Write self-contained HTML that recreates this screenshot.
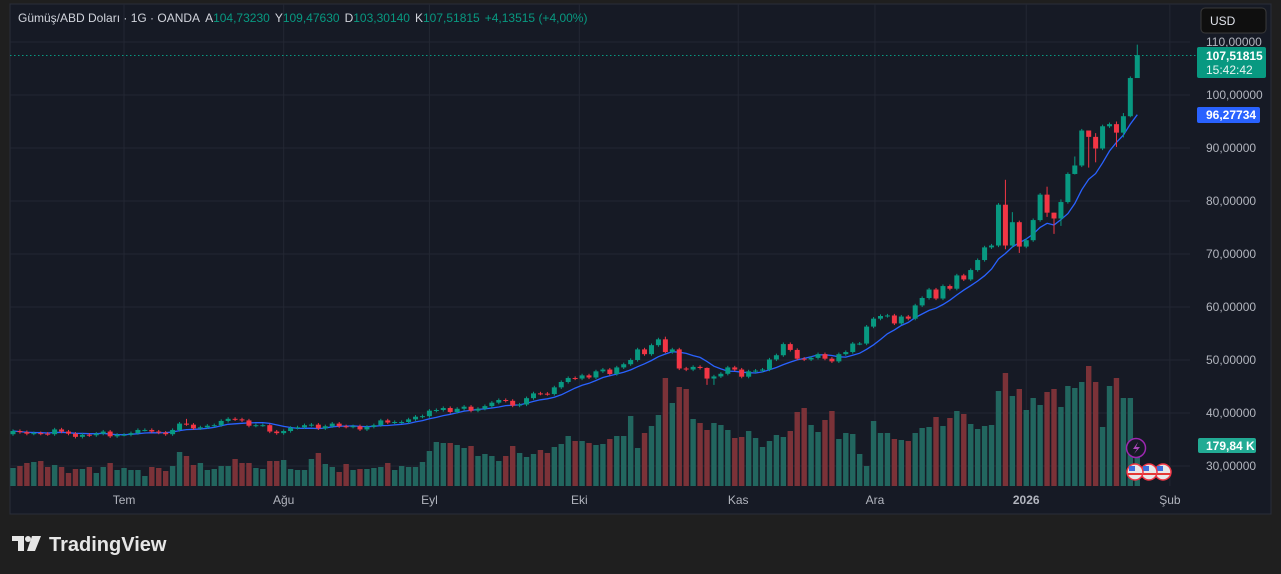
<!DOCTYPE html>
<html><head><meta charset="utf-8">
<style>
html,body{margin:0;padding:0;background:#1f1f1f;width:1281px;height:574px;overflow:hidden;font-family:"Liberation Sans",sans-serif;}
svg{position:absolute;left:0;top:0;}
</style></head>
<body>
<svg id="chart" width="1281" height="574">
  <rect x="10" y="4" width="1261" height="510" fill="#161a25" stroke="#2a2e39"/>
  <g id="grid"></g>
  <g id="vols"></g>
  <path id="ma" fill="none" stroke="#2962ff" stroke-width="1.3"/>
  <g id="candles"></g>
  <line x1="10" x2="1196" y1="55.5" y2="55.5" stroke="#089981" stroke-dasharray="1.5,2.5"/>
  <g id="yticks"></g>
  <g id="xticks"></g>
  <text x="18" y="22" font-size="12" fill="#d1d4dc">Gümüş/ABD Doları · 1G · OANDA <tspan dx="3">A</tspan><tspan fill="#089981">104,73230</tspan><tspan dx="5">Y</tspan><tspan fill="#089981">109,47630</tspan><tspan dx="5">D</tspan><tspan fill="#089981">103,30140</tspan><tspan dx="5">K</tspan><tspan fill="#089981">107,51815</tspan><tspan dx="5" fill="#089981">+4,13515 (+4,00%)</tspan></text>
  <g><rect x="1201" y="8" width="65" height="25" rx="4" fill="#0f0f0f" stroke="#3a3a3a"/><text x="1210" y="25" font-size="12" fill="#e0e3eb">USD</text></g>
  <g><rect x="1197" y="47" width="69" height="31" rx="2" fill="#089981"/><text x="1206" y="60" font-size="12" font-weight="bold" fill="#fff">107,51815</text><text x="1206" y="74" font-size="12" fill="#e8f5f2">15:42:42</text></g>
  <g><rect x="1197" y="107" width="63" height="16" rx="2" fill="#2962ff"/><text x="1206" y="119" font-size="12" font-weight="bold" fill="#fff">96,27734</text></g>
  <g><rect x="1198" y="438" width="58" height="15" rx="2" fill="#22ab94"/><text x="1206" y="450" font-size="12" font-weight="bold" fill="#fff">179,84 K</text></g>
  <g><circle cx="1136" cy="448" r="9.5" fill="#161a25" stroke="#9c27b0" stroke-width="1.5"/><path d="M1138,442 L1133,449 L1137,449 L1134,454 L1140,447 L1136,447 Z" fill="#ab47bc"/></g>
  <g>
    <circle cx="1163" cy="472" r="8" fill="#e8e8e8" stroke="#f23645" stroke-width="1.5"/><rect x="1157" y="466" width="6" height="5" fill="#3c6edc"/><rect x="1156" y="473" width="14" height="2" fill="#e53935"/>
    <circle cx="1149" cy="472" r="8" fill="#e8e8e8" stroke="#f23645" stroke-width="1.5"/><rect x="1143" y="466" width="6" height="5" fill="#3c6edc"/><rect x="1142" y="473" width="14" height="2" fill="#e53935"/>
    <circle cx="1135" cy="472" r="8" fill="#e8e8e8" stroke="#f23645" stroke-width="1.5"/><rect x="1129" y="466" width="6" height="5" fill="#3c6edc"/><rect x="1128" y="473" width="14" height="2" fill="#e53935"/>
  </g>
  <g>
    <path d="M12,536 H24 V551 H18 V541 H12 Z" fill="#e6e6e6"/><circle cx="28" cy="539" r="3" fill="#e6e6e6"/><path d="M32,536 H41 L35,551 H27 Z" fill="#e6e6e6"/>
    <text x="49" y="551" font-size="20" font-weight="bold" fill="#e6e6e6">TradingView</text>
  </g>
</svg>
<script>
// ---- data ----
const closes = [
36.6,36.4,36.1,36.2,36.1,36.0,36.9,36.5,36.1,35.5,35.9,35.8,36.1,36.5,35.6,35.9,35.9,36.2,36.8,36.8,
36.5,36.3,36.0,36.8,38.0,37.8,37.1,37.3,37.6,37.7,38.5,38.9,38.8,38.6,37.6,37.7,37.7,36.5,36.2,36.6,
37.2,37.3,37.7,37.8,37.1,37.5,38.0,37.5,37.4,37.5,36.9,37.4,37.7,38.6,38.2,38.3,38.3,38.8,39.3,
39.4,40.44,40.56,40.94,40.19,40.8,41.19,40.44,40.8,41.3,41.95,42.45,42.3,41.4,41.6,42.8,43.7,43.65,43.58,44.84,
45.85,46.6,46.5,47.1,46.7,47.86,48.2,47.36,48.6,49.2,50.0,52.0,51.1,52.8,53.9,51.5,52.0,48.4,48.2,48.7,
48.5,46.5,46.9,47.4,48.6,48.2,46.85,47.86,48.0,48.2,50.1,50.9,53.0,51.9,50.25,50.1,50.4,51.1,50.25,
49.74,51.1,51.5,53.1,53.1,56.3,57.8,58.3,58.4,56.9,58.2,57.8,60.3,61.7,63.3,61.6,63.95,63.45,65.96,65.2,
66.97,68.86,71.25,71.6,79.3,71.6,76.0,71.4,72.6,76.4,81.2,77.8,76.7,79.8,85.1,86.7,93.3,92.1,89.9,94.1,
94.5,92.9,96.0,103.2,107.52];
const firstOpen = 36.0;
// notable wick extremes: index -> [high, low]
const wickExtremes = {25:[38.9,37.6],94:[54.4,51.3],100:[48.6,45.3],101:[47.2,45.3],
143:[84.0,70.9],144:[77.9,71.2],145:[76.3,70.2],149:[82.7,77.0],150:[77.8,73.8],151:[80.3,75.3],
153:[88.4,85.0],155:[93.0,86.3],156:[92.8,87.3],159:[95.0,90.2],160:[96.6,92.0],161:[103.5,95.8],162:[109.5,103.3]};
const volumes = [
18,20,23,24,25,19,21,19,13,17,17,19,13,19,23,16,18,16,16,10,19,18,15,20,34,30,21,23,16,17,
20,20,27,23,23,18,17,25,25,26,17,16,16,27,33,22,19,14,22,16,17,17,18,19,23,16,20,19,19,
24,35,44,43,43,41,38,40,30,32,30,25,30,40,33,29,32,36,33,39,42,50,45,45,43,41,42,47,50,50,
70,38,53,60,71,108,83,99,97,67,63,56,63,61,56,48,49,55,48,39,45,51,49,55,74,78,61,54,66,
75,47,53,52,32,20,65,53,53,47,46,45,53,58,59,69,60,68,75,72,62,57,60,61,95,113,90,97,76,88,
81,94,97,79,100,98,104,120,104,59,100,108,88,88,41];
const priceTicks = [110,100,90,80,70,60,50,40,30];
const priceTickLabels = ["110,00000","100,00000","90,00000","80,00000","70,00000","60,00000","50,00000","40,00000","30,00000"];
const monthLabels = ["Tem","Ağu","Eyl","Eki","Kas","Ara","2026","Şub"];
const monthIndex = [16,39,60,81.6,104.5,124.2,146,166.7];
const maPeriod = 8;

// ---- scales ----
const X0 = 13, STEP = 6.94;
const xAt = i => X0 + STEP * i;
const yAt = p => 42 + (110 - p) * 5.3;
const VBASE = 486, VSCALE = 1.0;
const vY = v => VBASE - v * VSCALE;
const NS = "http://www.w3.org/2000/svg";
function mk(tag, attrs, parent){const e=document.createElementNS(NS,tag);for(const k in attrs)e.setAttribute(k,attrs[k]);parent.appendChild(e);return e;}

const grid = document.getElementById('grid');
priceTicks.forEach((p,i)=>{
  const y = yAt(p);
  const l = mk('line',{x1:10,x2:1190,y1:y,y2:y,stroke:'#232733','stroke-width':1},grid);
  
  
  const t = mk('text',{x:1206,y:y+4,'font-size':12,fill:'#b2b5be'},document.getElementById('yticks'));
  t.textContent = priceTickLabels[i];
  
  
});
monthIndex.forEach((mi,i)=>{
  const x = xAt(mi);
  const l = mk('line',{x1:x,x2:x,y1:4,y2:486,stroke:'#232733','stroke-width':1},grid);
  
  
  const t = mk('text',{x:x,y:504,'font-size':12,fill:'#b2b5be','text-anchor':'middle','font-weight':monthLabels[i]==='2026'?'bold':'normal'},document.getElementById('xticks'));
  t.textContent = monthLabels[i];
  
  
});

const cg = document.getElementById('candles'), vg = document.getElementById('vols');
closes.forEach((c,i)=>{
  const o = i===0 ? firstOpen : closes[i-1];
  const up = c >= o;
  const col = up ? '#089981' : '#f23645';
  const top = Math.max(o,c), bot = Math.min(o,c);
  const ex = wickExtremes[i];
  const hi = ex ? ex[0] : top + 0.3, lo = ex ? ex[1] : bot - 0.3;
  const x = xAt(i);
  const w = mk('line',{x1:x,x2:x,y1:yAt(hi),y2:yAt(lo),stroke:col,'stroke-width':1},cg);
  
  
  const h = Math.max(1, yAt(bot)-yAt(top));
  const b = mk('rect',{x:x-2.5,y:yAt(top),width:5,height:h,fill:col},cg);
  
  
  const vb = mk('rect',{x:x-2.7,y:vY(volumes[i]),width:5.4,height:VBASE-vY(volumes[i]),fill:up?'#22665f':'#7b3238'},vg);
  
  
});

let d='';
closes.forEach((c,i)=>{
  const s = Math.max(0,i-maPeriod+1);
  const arr = closes.slice(s,i+1);
  const m = arr.reduce((a,b)=>a+b,0)/arr.length;
  d += (i?'L':'M') + xAt(i).toFixed(1) + ',' + yAt(m).toFixed(1);
});
document.getElementById('ma').setAttribute('d', d);
</script>
</body></html>
